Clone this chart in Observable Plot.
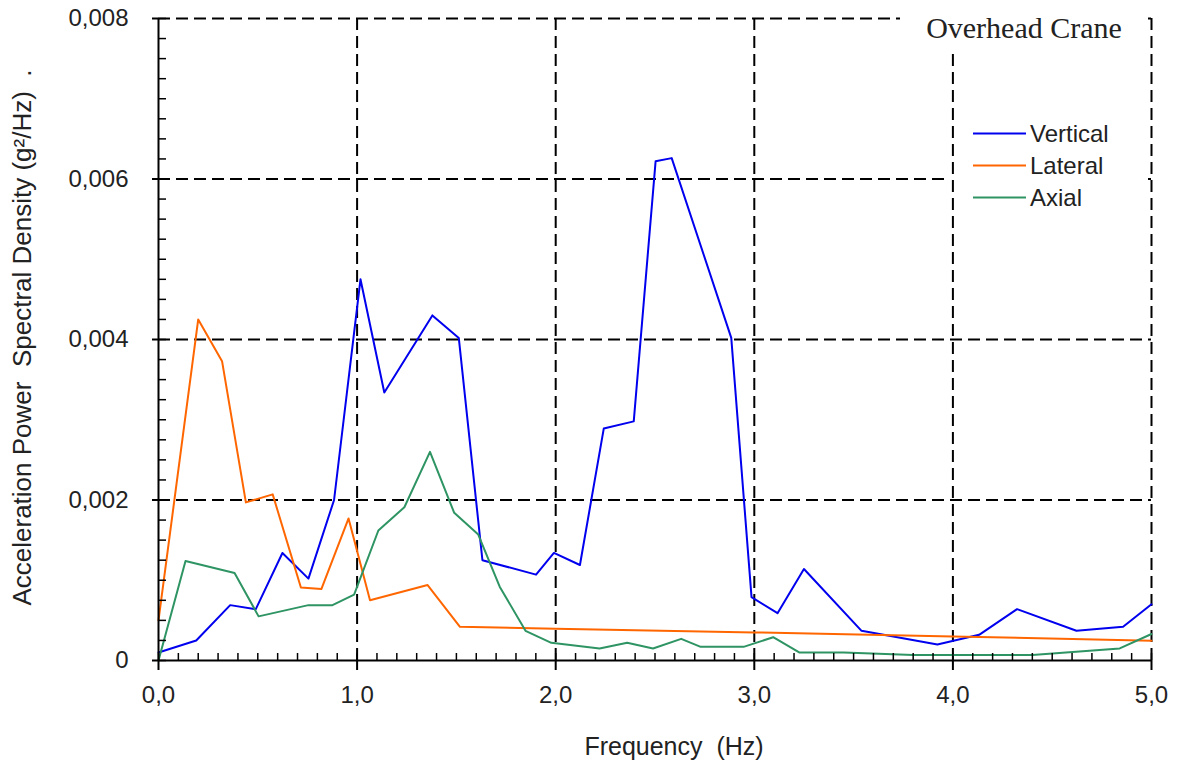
<!DOCTYPE html>
<html>
<head>
<meta charset="utf-8">
<script src="https://cdn.jsdelivr.net/npm/d3@7"></script>
<script src="https://cdn.jsdelivr.net/npm/@observablehq/plot@0.6"></script>
<style>
  html, body { margin: 0; padding: 0; background: #fff; }
  #chart { width: 1179px; height: 765px; }
</style>
</head>
<body>
<div id="chart"></div>
<script>
// ---- Data ----
const freqVertical = [0, 0.19, 0.361, 0.49, 0.624, 0.755, 0.884, 1.017, 1.137, 1.379, 1.512, 1.631, 1.901, 1.991, 2.122, 2.242, 2.393, 2.503, 2.584, 2.884, 2.986, 3.117, 3.25, 3.54, 3.922, 4.132, 4.323, 4.622, 4.857, 5.0];
const psdVertical  = [0.0001, 0.00025, 0.00069, 0.00064, 0.00134, 0.00102, 0.0020, 0.00475, 0.00334, 0.0043, 0.00402, 0.00125, 0.00107, 0.00134, 0.00119, 0.00289, 0.00298, 0.00622, 0.00626, 0.00402, 0.00079, 0.00059, 0.00114, 0.00037, 0.0002, 0.00032, 0.00064, 0.00037, 0.00042, 0.0007];

const freqLateral = [0, 0.20, 0.32, 0.44, 0.575, 0.717, 0.82, 0.957, 1.065, 1.355, 1.518, 2.0, 3.0, 4.0, 5.0];
const psdLateral  = [0.0005, 0.00425, 0.00373, 0.00197, 0.00207, 0.00091, 0.00089, 0.00177, 0.00075, 0.00094, 0.00042, 0.000395, 0.00035, 0.0003, 0.000245];

const freqAxial = [0, 0.136, 0.383, 0.504, 0.755, 0.876, 0.985, 1.107, 1.238, 1.367, 1.489, 1.61, 1.718, 1.848, 1.978, 2.221, 2.36, 2.49, 2.632, 2.73, 2.946, 3.095, 3.226, 3.45, 3.80, 4.40, 4.84, 5.0];
const psdAxial  = [0, 0.00124, 0.00109, 0.00055, 0.00069, 0.00069, 0.00082, 0.00162, 0.00191, 0.0026, 0.00184, 0.00157, 0.00092, 0.00037, 0.00022, 0.00015, 0.00022, 0.00015, 0.00027, 0.00017, 0.00017, 0.00029, 0.0001, 0.0001, 0.00007, 0.00007, 0.00015, 0.00033];

const seriesNames  = ["Vertical", "Lateral", "Axial"];
const seriesColors = ["#0000ee", "#ff6600", "#2e9463"];

const xTicks = [0, 1, 2, 3, 4, 5];
const yTicks = [0, 0.002, 0.004, 0.006, 0.008];
const xMinorTicks = d3.range(0, 50.5).map(i => i / 10);
const yMinorTicks = d3.range(0, 32.5).map(i => i * 0.00025);

const chartTitle = "Overhead Crane";
const xLabel = "Frequency  (Hz)";
const yLabel = "Acceleration Power  Spectral Density (g²/Hz)\u00a0\u00a0.";

// ---- Build table ----
const pairs = [[freqVertical, psdVertical], [freqLateral, psdLateral], [freqAxial, psdAxial]];
const data = pairs.flatMap(([f, p], s) => f.map((x, i) => ({series: seriesNames[s], f: x, psd: p[i]})));

const fmtY = d => d === 0 ? "0" : d.toFixed(3).replace(".", ",");
const fmtX = d => d.toFixed(1).replace(".", ",");

// legend background + legend (drawn between horizontal and vertical grid)
const legendMark = () => {
  const g = d3.create("svg:g");
  g.append("rect").attr("x", 944).attr("y", 100).attr("width", 200).attr("height", 125).attr("fill", "white");
  seriesNames.forEach((name, i) => {
    const y = 133.5 + i * 32;
    g.append("line").attr("x1", 973).attr("x2", 1026).attr("y1", y).attr("y2", y)
      .attr("stroke", seriesColors[i]).attr("stroke-width", 2);
    g.append("text").attr("x", 1030).attr("y", y).attr("dy", "0.35em")
      .attr("text-anchor", "start")
      .attr("font-family", "Liberation Sans, Arial, sans-serif").attr("font-size", 24)
      .attr("fill", "#222").text(name);
  });
  return g.node();
};

const titleMark = () => {
  const g = d3.create("svg:g");
  g.append("rect").attr("x", 900).attr("y", 0).attr("width", 242).attr("height", 52).attr("fill", "white");
  g.append("text").attr("x", 1024).attr("y", 27).attr("dy", "0.35em").attr("text-anchor", "middle")
    .attr("font-family", "Liberation Serif, Times New Roman, serif").attr("font-size", 30)
    .attr("fill", "#222").text(chartTitle);
  return g.node();
};

const chart = Plot.plot({
  width: 1179,
  height: 765,
  marginLeft: 158,
  marginRight: 28,
  marginTop: 18,
  marginBottom: 105,
  style: {fontFamily: "Liberation Sans, Arial, sans-serif", fontSize: "24px", color: "#222", background: "white"},
  x: {domain: [0, 5]},
  y: {domain: [0, 0.008]},
  color: {domain: seriesNames, range: seriesColors},
  marks: [
    Plot.gridY(yTicks.slice(1), {stroke: "black", strokeOpacity: 1, strokeWidth: 2, strokeDasharray: "12,6"}),
    legendMark,
    Plot.gridX(xTicks.slice(1), {stroke: "black", strokeOpacity: 1, strokeWidth: 2, strokeDasharray: "12,6"}),
    Plot.line(data, {x: "f", y: "psd", z: "series", stroke: "series", strokeWidth: 2}),
    Plot.ruleX([0], {stroke: "black", strokeWidth: 2}),
    Plot.ruleY([0], {stroke: "black", strokeWidth: 2}),
    Plot.axisY(yMinorTicks, {tickSize: -8, tickFormat: () => "", stroke: "black", strokeWidth: 1.5, label: null}),
    Plot.axisY(yTicks, {tickSize: 6, tickPadding: 24, tickFormat: fmtY, stroke: "black", strokeWidth: 2, fontSize: 24, label: null}),
    Plot.axisX(xMinorTicks, {tickSize: -7, tickFormat: () => "", stroke: "black", strokeWidth: 1.5, label: null}),
    Plot.axisX(xTicks, {tickSize: 10, tickPadding: 15, tickFormat: fmtX, stroke: "black", strokeWidth: 2, fontSize: 24, label: null}),
    Plot.text([xLabel], {frameAnchor: "bottom", dx: 19, dy: 86, textAnchor: "middle", lineAnchor: "middle", fontSize: 25, fill: "#222"}),
    Plot.text([yLabel], {frameAnchor: "left", rotate: -90, dx: -136, dy: -2, textAnchor: "middle", lineAnchor: "middle", fontSize: 26, fill: "#222"}),
    titleMark
  ]
});
document.getElementById("chart").appendChild(chart);
</script>
</body>
</html>
